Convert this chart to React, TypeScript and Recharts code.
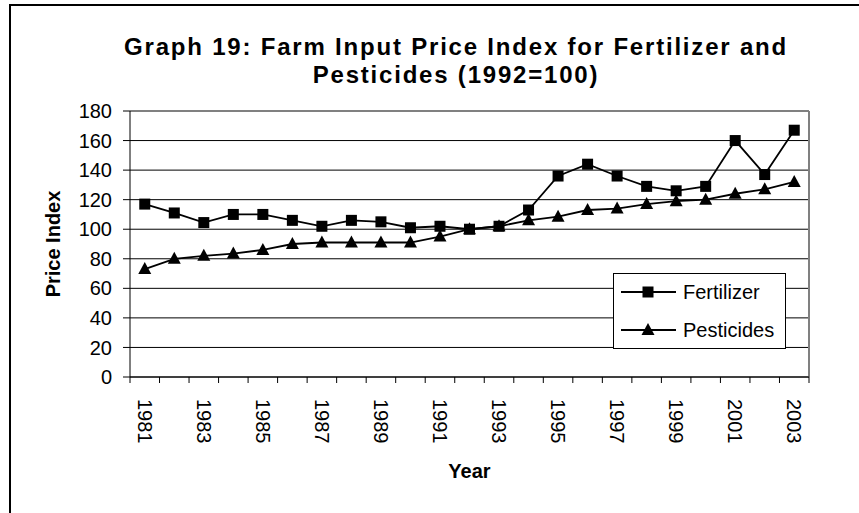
import React from 'react'
import { LineChart, Line, XAxis, YAxis, CartesianGrid, Legend, ReferenceLine } from 'recharts'

const years = [1981, 1982, 1983, 1984, 1985, 1986, 1987, 1988, 1989, 1990, 1991, 1992, 1993, 1994, 1995, 1996, 1997, 1998, 1999, 2000, 2001, 2002, 2003]
const fertilizer = [117, 111, 104.5, 110, 110, 106, 102, 106, 105, 101, 102, 100, 102, 113, 136, 144, 136, 129, 126, 129, 160, 137, 167]
const pesticides = [73, 80, 82, 83.5, 86, 90, 91, 91, 91, 91, 95, 100, 102, 106, 108.5, 113, 114, 117, 119, 120, 124, 127, 132]
const yTicks = [0, 20, 40, 60, 80, 100, 120, 140, 160, 180]
const yearLabels = ['1981', '1983', '1985', '1987', '1989', '1991', '1993', '1995', '1997', '1999', '2001', '2003']

const data = years.map((year, i) => ({ year, fertilizer: fertilizer[i], pesticides: pesticides[i] }))

// tick marks sit between the categories, labels on every other year
const boundaries = [...years.map((y) => y - 0.5), years[years.length - 1] + 0.5]
const xTicks = [...boundaries, ...yearLabels.map(Number)].sort((a, b) => a - b)

const FONT = '"Liberation Sans", Arial, sans-serif'

function YearTick(props: any) {
  const { x, y, payload } = props
  const v = payload.value
  if (!Number.isInteger(v)) {
    return <line x1={x} x2={x} y1={y - 6} y2={y} stroke="#000" strokeWidth={1} />
  }
  return (
    <text
      transform={`translate(${x},${y + 16}) rotate(90)`}
      textAnchor="start"
      dominantBaseline="central"
      fontSize={20}
      fill="#000"
    >
      {v}
    </text>
  )
}

function SquareDot(props: any) {
  const { cx, cy } = props
  if (cx == null || cy == null) return null
  return <rect x={cx - 5.5} y={cy - 5.5} width={11} height={11} fill="#000" />
}

function TriangleDot(props: any) {
  const { cx, cy } = props
  if (cx == null || cy == null) return null
  return <polygon points={`${cx},${cy - 7} ${cx + 6.5},${cy + 5} ${cx - 6.5},${cy + 5}`} fill="#000" />
}

function LegendBox(props: any) {
  const items = props.payload || []
  return (
    <div style={{ width: 171, height: 74, border: '1px solid #000', background: '#fff' }}>
      <svg width={171} height={74}>
        {items.map((item: any, i: number) => {
          const cy = 18 + i * 38
          return (
            <g key={item.value}>
              <line x1={7} x2={62} y1={cy} y2={cy} stroke="#000" strokeWidth={1.8} />
              {item.dataKey === 'fertilizer' ? <SquareDot cx={34} cy={cy} /> : <TriangleDot cx={34} cy={cy} />}
              <text x={69} y={cy} dominantBaseline="central" fontSize={20} fill="#000">
                {item.value}
              </text>
            </g>
          )
        })}
      </svg>
    </div>
  )
}

export default function App() {
  return (
    <div style={{ position: 'absolute', left: 0, top: 0, width: 859, height: 513, overflow: 'hidden', background: '#fff', fontFamily: FONT }}>
      <div style={{ position: 'absolute', left: 9, top: 4, width: 1000, height: 1000, borderLeft: '2px solid #000', borderTop: '2px solid #000' }} />
      <div
        style={{
          position: 'absolute',
          left: 56,
          width: 800,
          top: 33,
          textAlign: 'center',
          fontWeight: 'bold',
          fontSize: 24,
          lineHeight: '28px',
          letterSpacing: 1.8,
          color: '#000',
        }}
      >
        Graph 19: Farm Input Price Index for Fertilizer and
        <br />
        Pesticides (1992=100)
      </div>
      <div style={{ position: 'absolute', left: 0, top: 0 }}>
        <LineChart width={859} height={513} data={data} margin={{ top: 111, right: 50, left: 53, bottom: 30 }}>
          <CartesianGrid vertical={false} stroke="#000" strokeWidth={1} />
          <XAxis
            dataKey="year"
            type="number"
            domain={[1980.5, 2003.5]}
            ticks={xTicks}
            interval={0}
            tick={<YearTick />}
            tickLine={false}
            tickSize={6}
            tickMargin={0}
            height={106}
            stroke="#000"
            label={{ value: 'Year', position: 'insideBottom', offset: 5, fontSize: 20, fontWeight: 'bold', fill: '#000' }}
          />
          <YAxis
            domain={[0, 180]}
            ticks={yTicks}
            interval={0}
            width={77}
            tickSize={7}
            tickMargin={11}
            stroke="#000"
            tick={{ fontSize: 20, fill: '#000' }}
            label={{
              value: 'Price Index',
              angle: -90,
              position: 'insideLeft',
              offset: 0,
              fontSize: 20,
              fontWeight: 'bold',
              fill: '#000',
              style: { textAnchor: 'middle' },
            }}
          />
          <ReferenceLine y={180} stroke="#808080" strokeWidth={2} />
          <ReferenceLine x={2003.5} stroke="#808080" strokeWidth={2} />
          <Line
            dataKey="fertilizer"
            name="Fertilizer"
            stroke="#000"
            strokeWidth={1.8}
            dot={(p: any) => <SquareDot key={p.index} {...p} />}
            isAnimationActive={false}
          />
          <Line
            dataKey="pesticides"
            name="Pesticides"
            stroke="#000"
            strokeWidth={1.8}
            dot={(p: any) => <TriangleDot key={p.index} {...p} />}
            isAnimationActive={false}
          />
          <Legend
            layout="horizontal"
            verticalAlign="middle"
            align="center"
            content={<LegendBox />}
            wrapperStyle={{ left: 613, top: 273, width: 173, height: 76 }}
          />
        </LineChart>
      </div>
    </div>
  )
}
